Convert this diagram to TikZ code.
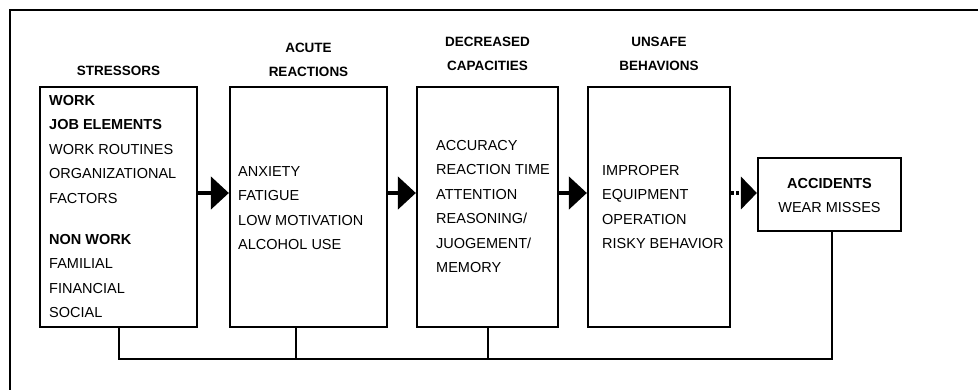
\documentclass[tikz,border=0pt]{standalone}
\usepackage{fontspec}
\setmainfont{Liberation Sans}
\usetikzlibrary{arrows.meta}
\begin{document}
\begin{tikzpicture}[x=1pt,y=-1pt,
  box/.style={draw, line width=2.2pt, inner sep=0pt},
  list/.style={inner sep=0pt, font=\fontsize{14.5}{24.4}\selectfont},
  head/.style={inner sep=0pt, font=\fontsize{13.5}{24}\selectfont\bfseries},
  flow/.style={line width=4.5pt, -{Triangle[length=18pt,width=32pt]}},
  link/.style={line width=2pt}]
\useasboundingbox (0,0) rectangle (978,389);
\fill[white] (0,0) rectangle (978,389);
% open frame round the chart
\draw[line width=2.2pt] (10,395) -- (10,10) -- (985,10);

% stage boxes
\node[box, minimum width=157pt, minimum height=240pt] (st) at (118.5,207) {};
\node[box, minimum width=157pt, minimum height=240pt] (ar) at (308.5,207) {};
\node[box, minimum width=141pt, minimum height=240pt] (dc) at (487.5,207) {};
\node[box, minimum width=142pt, minimum height=240pt] (ub) at (659,207) {};
\node[box, minimum width=143pt, minimum height=73pt] (ac) at (829.5,194.5) {};

% headings
\node[head, anchor=base] (hst) at (118.5,75.5) {\begin{tabular}[t]{@{}c@{}}STRESSORS\end{tabular}};
\node[head, anchor=base] (har) at (308.5,52) {\begin{tabular}[t]{@{}c@{}}ACUTE\\REACTIONS\end{tabular}};
\node[head, anchor=base] (hdc) at (487.5,46) {\begin{tabular}[t]{@{}c@{}}DECREASED\\CAPACITIES\end{tabular}};
\node[head, anchor=base] (hub) at (659,46) {\begin{tabular}[t]{@{}c@{}}UNSAFE\\BEHAVIONS\end{tabular}};

% box contents
\node[list, anchor=base west] (tst) at (49,105.5) {\begin{tabular}[t]{@{}l@{}}
  \textbf{WORK}\\ \textbf{JOB ELEMENTS}\\ WORK ROUTINES\\ ORGANIZATIONAL\\ FACTORS\\[17pt]
  \textbf{NON WORK}\\ FAMILIAL\\ FINANCIAL\\ SOCIAL\end{tabular}};
\node[list, anchor=base west] (tar) at (238,176.5) {\begin{tabular}[t]{@{}l@{}}
  ANXIETY\\ FATIGUE\\ LOW MOTIVATION\\ ALCOHOL USE\end{tabular}};
\node[list, anchor=base west] (tdc) at (436,150.5) {\begin{tabular}[t]{@{}l@{}}
  ACCURACY\\ REACTION TIME\\ ATTENTION\\ REASONING/\\ JUOGEMENT/\\ MEMORY\end{tabular}};
\node[list, anchor=base west] (tub) at (602,175.5) {\begin{tabular}[t]{@{}l@{}}
  IMPROPER\\ EQUIPMENT\\ OPERATION\\ RISKY BEHAVIOR\end{tabular}};
\node[list, anchor=base] (tac) at (829.5,188.5) {\begin{tabular}[t]{@{}c@{}}
  \textbf{ACCIDENTS}\\ WEAR MISSES\end{tabular}};

% forward arrows
\coordinate (ay) at (0,193);
\draw[flow] (st.east |- ay) -- (ar.west |- ay);
\draw[flow] (ar.east |- ay) -- (dc.west |- ay);
\draw[flow] (dc.east |- ay) -- (ub.west |- ay);
\draw[flow, -{Triangle[length=16pt,width=32pt]}, dash pattern=on 3pt off 2pt] (ub.east |- ay) -- (ac.west |- ay);

% feedback line along the bottom
\coordinate (bl) at (0,359);
\coordinate (ard) at ([xshift=67pt]ar.south west);
\draw[link] (st.south) -- (st.south |- bl) -| ([xshift=2pt]ac.south);
\draw[link] (ard) -- (ard |- bl);
\draw[link] (dc.south) -- (dc.south |- bl);
\end{tikzpicture}
\end{document}
